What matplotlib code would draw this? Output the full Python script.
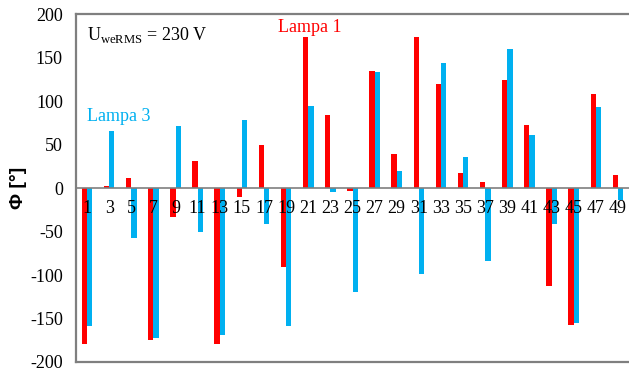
import matplotlib.pyplot as plt
import numpy as np

# harmonic orders and phase angles
harmonics = [1, 3, 5, 7, 9, 11, 13, 15, 17, 19, 21, 23, 25,
             27, 29, 31, 33, 35, 37, 39, 41, 43, 45, 47, 49]
lampa1 = [-179, 2, 11, -175, -33, 31, -179, -10, 49, -91, 174, 84, -3,
          134, 39, 174, 120, 17, 7, 124, 72, -113, -157, 108, 15]
lampa3 = [-159, 66, -58, -172, 71, -50, -169, 78, -41, -159, 94, -5, -120,
          133, 20, -99, 144, 36, -84, 160, 61, -41, -155, 93, -14]

red = '#FF0000'
blue = '#00B0F0'
grey = '#7F7F7F'

fig = plt.figure(figsize=(6.29, 3.72), dpi=100)
ax = fig.add_axes([76 / 629, 1 - 362 / 372, 553 / 629, 348 / 372])

x = np.arange(len(harmonics))
w = 0.24
ax.bar(x - w / 2, lampa1, w, color=red, zorder=2)
ax.bar(x + w / 2, lampa3, w, color=blue, zorder=2)

ax.set_xlim(-0.5, len(harmonics) - 0.5)
ax.set_ylim(-200, 200)
ax.set_yticks(np.arange(-200, 201, 50))
ax.set_yticklabels([str(v) for v in range(-200, 201, 50)],
                   family='Liberation Serif', fontsize=13)
ax.tick_params(axis='y', length=0, pad=9.5)
ax.set_xticks([])

# category labels sit just under the zero line
for xi, h in zip(x, harmonics):
    ax.text(xi, -14, str(h), ha='center', va='top',
            family='Liberation Serif', fontsize=13, zorder=3)

ax.axhline(0, color=grey, lw=1.2, zorder=3)
for s in ['left', 'top', 'bottom']:
    ax.spines[s].set_color(grey)
    ax.spines[s].set_linewidth(1.6)
ax.spines['right'].set_visible(False)

ax.set_ylabel('Φ [°]', family='Liberation Sans', fontweight='bold',
              fontsize=14)
ax.yaxis.set_label_coords(-0.089, 0.5)

ax.text(0.02, 0.94, r'U$_{\mathregular{weRMS}}$ = 230 V', transform=ax.transAxes,
        family='Liberation Serif', fontsize=13, va='center', ha='left')
ax.text(8.63, 184, 'Lampa 1', color=red, family='Liberation Serif',
        fontsize=13, va='center', ha='left')
ax.text(0.0, 82, 'Lampa 3', color=blue, family='Liberation Serif',
        fontsize=13, va='center', ha='left')

fig.savefig('out.png', dpi=100)
